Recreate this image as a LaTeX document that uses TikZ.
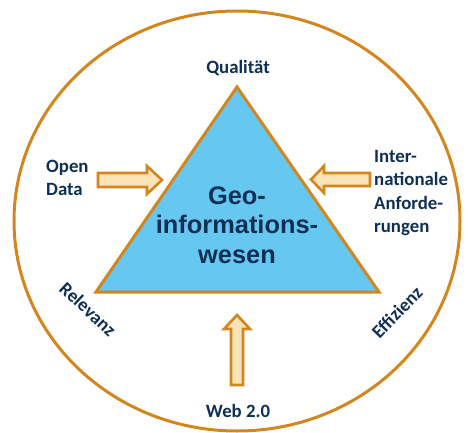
\documentclass[tikz,border=0pt]{standalone}
\usepackage{fontspec}
\newfontfamily\labfont{Carlito}
\newfontfamily\mainfont{Liberation Sans}
\definecolor{ring}{HTML}{D4861E}
\definecolor{tri}{HTML}{66C8F0}
\definecolor{arrfill}{HTML}{FDE3B8}
\definecolor{navy}{HTML}{0F2F54}
\begin{document}
\begin{tikzpicture}[x=1pt,y=-1pt,
  lab/.style={text=navy,font=\labfont\bfseries\fontsize{18.8}{23.5}\selectfont,inner sep=0pt},
  big/.style={text=navy,font=\mainfont\bfseries\fontsize{25.4}{29.5}\selectfont,align=center,inner sep=0pt},
  fatarrow/.style={draw=ring,fill=arrfill,line width=2.6pt,line join=miter}]
\useasboundingbox (0,0) rectangle (468,433);
\draw[ring,line width=3pt] (237,221) ellipse [x radius=223,y radius=210];
\coordinate (top) at (237,87);
\coordinate (bl) at (96,292);
\coordinate (br) at (379,292);
\draw[fill=tri,draw=ring,line width=3pt,line join=miter] (top) -- (bl) -- (br) -- cycle;
\node[big] (center) at (237,225) {Geo-\\informations-\\wesen};
\node[lab] (qual) at (238,68) {Qualität};
\node[lab,align=left,anchor=west] (open) at (46,178) {Open\\Data};
\node[lab,align=left,anchor=west] (intl) at (374,193) {Inter-\\nationale\\Anforde-\\rungen};
\node[lab,rotate=-43] (rel) at (88,309) {Relevanz};
\node[lab,rotate=46] (eff) at (397,312) {Effizienz};
\node[lab] (web) at (238,411) {Web 2.0};
% left arrow
\draw[fatarrow] (98,173) -- (147,173) -- (147,166) -- (162,180) -- (147,194) -- (147,187) -- (98,187) -- cycle;
% right arrow
\draw[fatarrow] (370,173) -- (324,173) -- (324,166) -- (311,179.5) -- (324,193) -- (324,186) -- (370,186) -- cycle;
% bottom arrow
\draw[fatarrow] (231,385) -- (231,329) -- (224,329) -- (237,315) -- (250,329) -- (243,329) -- (243,385) -- cycle;
\end{tikzpicture}
\end{document}
